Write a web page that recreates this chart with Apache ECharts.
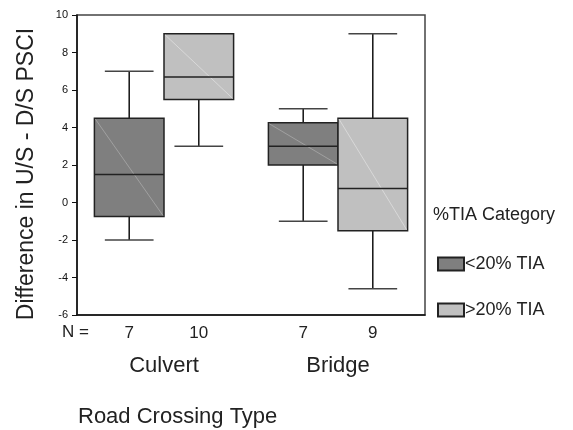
<!DOCTYPE html>
<html><head><meta charset="utf-8">
<script src="https://cdn.jsdelivr.net/npm/echarts@6/dist/echarts.min.js"></script>
<style>html,body{margin:0;padding:0;background:#fff}#c{width:573px;height:430px}</style>
</head><body><div id="c"></div>
<script>
var categories = ['Culvert', 'Bridge'];
var seriesNames = ['<20% TIA', '>20% TIA'];
// [min, Q1, median, Q3, max]
var lowTIA = [[-2, -0.75, 1.5, 4.5, 7], [-1, 2, 3, 4.25, 5]];
var highTIA = [[3, 5.5, 6.7, 9, 9], [-4.6, -1.5, 0.75, 4.5, 9]];
var lowN = [7, 7];
var highN = [10, 9];
var yTicks = {min: -6, max: 10, interval: 2};

var FONT = 'Liberation Sans, Arial, sans-serif';
var chart = echarts.init(document.getElementById('c'), null, {renderer: 'canvas'});

function makeRender(side, fill, diag, counts) {
  return function (params, api) {
    var ci = api.value(0);
    var band = api.size([1, 0])[0];
    var bw = band * 0.4;
    var cx = api.coord([ci, 0])[0] + side * bw / 2;
    var yMin = api.coord([ci, api.value(1)])[1];
    var yQ1 = api.coord([ci, api.value(2)])[1];
    var yMed = api.coord([ci, api.value(3)])[1];
    var yQ3 = api.coord([ci, api.value(4)])[1];
    var yMax = api.coord([ci, api.value(5)])[1];
    var yBottom = api.coord([ci, yTicks.min])[1];
    var capW = bw * 0.7;
    var x0 = cx - bw / 2, x1 = cx + bw / 2;
    var lineS = {stroke: '#111', lineWidth: 1.5};
    var capS = {stroke: '#444', lineWidth: 1.5};
    var children = [];
    if (yMax < yQ3 - 0.5) {
      children.push({type: 'line', shape: {x1: cx, y1: yQ3, x2: cx, y2: yMax}, style: lineS});
      children.push({type: 'line', shape: {x1: cx - capW / 2, y1: yMax, x2: cx + capW / 2, y2: yMax}, style: capS});
    }
    if (yMin > yQ1 + 0.5) {
      children.push({type: 'line', shape: {x1: cx, y1: yQ1, x2: cx, y2: yMin}, style: lineS});
      children.push({type: 'line', shape: {x1: cx - capW / 2, y1: yMin, x2: cx + capW / 2, y2: yMin}, style: capS});
    }
    children.push({type: 'rect', shape: {x: x0, y: yQ3, width: bw, height: yQ1 - yQ3},
      style: {fill: fill, stroke: '#222', lineWidth: 1.5}});
    children.push({type: 'line', shape: {x1: x0 + 1, y1: yQ3 + 1, x2: x1 - 1, y2: yQ1 - 1},
      style: {stroke: diag, lineWidth: 0.8}});
    children.push({type: 'line', shape: {x1: x0, y1: yMed, x2: x1, y2: yMed}, style: {stroke: '#222', lineWidth: 1.5}});
    children.push({type: 'text', style: {text: String(counts[params.dataIndex]), x: cx, y: yBottom + 18,
      align: 'center', verticalAlign: 'middle', font: '17px ' + FONT, fill: '#222'}, silent: true});
    return {type: 'group', children: children};
  };
}

function toData(arr) { return arr.map(function (d, i) { return [i].concat(d); }); }

chart.setOption({
  animation: false,
  backgroundColor: '#fff',
  textStyle: {fontFamily: FONT},
  grid: {left: 77, right: 148, top: 15, bottom: 115, show: true, borderColor: '#444', borderWidth: 1.5},
  xAxis: {
    type: 'category', data: categories,
    axisLine: {show: true, onZero: false, lineStyle: {color: '#111', width: 1.5}},
    axisTick: {show: false},
    axisLabel: {margin: 40, fontSize: 22, color: '#222', fontFamily: FONT}
  },
  yAxis: {
    type: 'value', min: yTicks.min, max: yTicks.max, interval: yTicks.interval,
    axisLine: {show: true, lineStyle: {color: '#111', width: 1.5}},
    axisTick: {show: true, length: 5, lineStyle: {color: '#111'}},
    axisLabel: {fontSize: 11, color: '#111', margin: 9, fontFamily: FONT},
    splitLine: {show: false}
  },
  legend: {
    orient: 'vertical', left: 437, top: 255, padding: 0, itemGap: 28, itemWidth: 26, itemHeight: 13,
    icon: 'rect', data: seriesNames,
    textStyle: {fontSize: 18, color: '#222', fontFamily: FONT, padding: [0, 0, 0, -4]}
  },
  graphic: [
    {type: 'text', x: 27, y: 174, rotation: Math.PI / 2,
      style: {text: 'Difference in U/S - D/S PSCI', font: '23px ' + FONT, fill: '#222', align: 'center', verticalAlign: 'middle'}},
    {type: 'text', left: 433, top: 206, style: {text: '%TIA Category', font: '18px ' + FONT, fill: '#222'}},
    {type: 'text', left: 62, top: 324, style: {text: 'N =', font: '17px ' + FONT, fill: '#222'}},
    {type: 'text', left: 78, top: 406, style: {text: 'Road Crossing Type', font: '22px ' + FONT, fill: '#222'}}
  ],
  series: [
    {name: seriesNames[0], type: 'custom', renderItem: makeRender(-1, '#7f7f7f', '#a8a8a8', lowN),
      itemStyle: {color: '#7f7f7f', borderColor: '#222', borderWidth: 1},
      encode: {x: 0, y: [1, 2, 3, 4, 5]}, data: toData(lowTIA)},
    {name: seriesNames[1], type: 'custom', renderItem: makeRender(1, '#c0c0c0', '#dedede', highN),
      itemStyle: {color: '#c0c0c0', borderColor: '#222', borderWidth: 1},
      encode: {x: 0, y: [1, 2, 3, 4, 5]}, data: toData(highTIA)}
  ]
});
</script></body></html>
